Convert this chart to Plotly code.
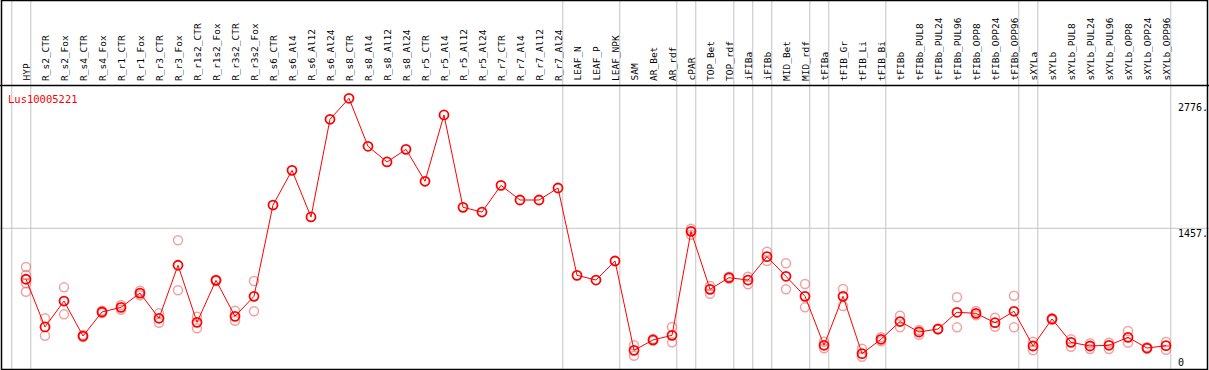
import plotly.graph_objects as go

categories = ["HYP", "R_s2_CTR", "R_s2_Fox", "R_s4_CTR", "R_s4_Fox", "R_r1_CTR", "R_r1_Fox",
              "R_r3_CTR", "R_r3_Fox", "R_r1s2_CTR", "R_r1s2_Fox", "R_r3s2_CTR", "R_r3s2_Fox",
              "R_s6_CTR", "R_s6_Al4", "R_s6_Al12", "R_s6_Al24", "R_s8_CTR", "R_s8_Al4", "R_s8_Al12",
              "R_s8_Al24", "R_r5_CTR", "R_r5_Al4", "R_r5_Al12", "R_r5_Al24", "R_r7_CTR", "R_r7_Al4",
              "R_r7_Al12", "R_r7_Al24", "LEAF_N", "LEAF_P", "LEAF_NPK", "SAM", "AR_Bet", "AR_rdf",
              "cPAR", "TOP_Bet", "TOP_rdf", "iFIBa", "iFIBb", "MID_Bet", "MID_rdf", "tFIBa", "tFIB_Gr",
              "tFIB_Li", "tFIB_Bi", "tFIBb", "tFIBb_PUL8", "tFIBb_PUL24", "tFIBb_PUL96", "tFIBb_OPP8",
              "tFIBb_OPP24", "tFIBb_OPP96", "sXYLa", "sXYLb", "sXYLb_PUL8", "sXYLb_PUL24",
              "sXYLb_PUL96", "sXYLb_OPP8", "sXYLb_OPP24", "sXYLb_OPP96"]

mean_values = [940, 456, 719, 364, 608, 655, 800, 544, 1082, 503, 929, 564, 767,
               1693, 2045, 1572, 2563, 2776, 2289, 2130, 2258, 1934, 2607, 1670, 1622, 1893, 1744,
               1744, 1866, 980, 932, 1125, 219, 324, 371, 1426, 838, 956, 932, 1169, 970, 767,
               270, 767, 185, 331, 511, 405, 435, 605, 594, 499, 615, 263, 537, 300, 263, 270,
               351, 242, 266]

N = None
rep_a = [1064, 544, 858, 375, 620, 680, 824, 594, 1335, 560, 935, 621, 922,
         N, N, N, N, N, N, N, N, N, N, N, N, N, N, N, N, N, N, N,
         270, 335, 456, 1453, 872, 966, 966, 1220, 1102, 892, 306, 841, 235, 351,
         570, 425, 440, 757, 618, 550, 773, 306, 545, 331, 290, 296, 415, 250, 303]
rep_b = [814, 367, 584, 355, 598, 630, 777, 499, 828, 442, 923, 519, 615,
         N, N, N, N, N, N, N, N, N, N, N, N, N, N, N, N, N, N, N,
         164, 315, 300, 1392, 793, 946, 889, 1125, 838, 655, 239, 669, 154, 310,
         452, 377, 430, 452, 574, 459, 452, 219, 530, 256, 232, 232, 296, 235, 225]
rep_c = [983] + [N] * 60
rep_d = [899] + [N] * 60

group_ends = [-1, 0, 28, 31, 34, 35, 37, 38, 39, 41, 42, 45, 52, 53, 60]
y_ticks = [2776, 1457, 0]
y_tick_labels = ["2776.", "1457.", "0"]
gene = "Lus10005221"

W, H = 1209, 370
HEADER = 85
x0_px, step_px = 26, 19
x_range = [-x0_px / step_px, (W - x0_px) / step_px]
y_per_px = 10.146
y_top_val = 2776 + (98.3 - HEADER) * y_per_px
y_range = [y_top_val - (H - HEADER) * y_per_px, y_top_val]


def py(px):
    return (H - px) / H


idx = list(range(len(categories)))
rep_color = "rgba(235,110,110,0.65)"
fig = go.Figure()
for reps in (rep_a, rep_b, rep_c, rep_d):
    fig.add_trace(go.Scatter(x=idx, y=reps, mode="markers",
                             marker=dict(symbol="circle-open", size=9, color=rep_color,
                                         line=dict(width=1.5, color=rep_color)),
                             hoverinfo="skip", showlegend=False))
fig.add_trace(go.Scatter(x=idx, y=mean_values, mode="lines+markers",
                         line=dict(color="#ff0000", width=1),
                         marker=dict(symbol="circle-open", size=9, color="#ff0000",
                                     line=dict(width=1.8, color="#ff0000")),
                         showlegend=False))

shapes = []
for g in group_ends:
    shapes.append(dict(type="line", xref="x", yref="paper", x0=g + 0.25, x1=g + 0.25,
                       y0=0, y1=1, line=dict(color="#c4c4c4", width=1), layer="below"))
shapes.append(dict(type="line", xref="paper", yref="y", x0=0, x1=1, y0=1457, y1=1457,
                   line=dict(color="#c4c4c4", width=1), layer="below"))
shapes.append(dict(type="line", xref="paper", yref="paper", x0=0, x1=1,
                   y0=py(HEADER + 0.5), y1=py(HEADER + 0.5), line=dict(color="black", width=1.5)))
shapes.append(dict(type="rect", xref="paper", yref="paper", x0=1.5 / W, x1=(W - 1.5) / W,
                   y0=0.6 / H, y1=1 - 0.6 / H, line=dict(color="black", width=1.5)))

annotations = []
for i, c in enumerate(categories):
    annotations.append(dict(x=i, xref="x", y=py(83), yref="paper", text=c, textangle=-90,
                            showarrow=False, xanchor="center", yanchor="bottom",
                            font=dict(family="DejaVu Sans Mono", size=9.5, color="black")))
annotations.append(dict(x=6 / W, xref="paper", y=py(91), yref="paper", text=gene,
                        showarrow=False, xanchor="left", yanchor="top",
                        font=dict(family="DejaVu Sans Mono", size=10.5, color="#ff0000")))
tick_px = [107, 233, 362]
for t, lab, p in zip(y_ticks, y_tick_labels, tick_px):
    annotations.append(dict(x=1176 / W, xref="paper", y=py(p), yref="paper", text=lab,
                            showarrow=False, xanchor="left", yanchor="middle",
                            font=dict(family="DejaVu Sans Mono", size=10, color="black")))

fig.update_layout(width=W, height=H, margin=dict(l=0, r=0, t=0, b=0),
                  paper_bgcolor="white", plot_bgcolor="white", hovermode=False,
                  xaxis=dict(range=x_range, visible=False, fixedrange=True),
                  yaxis=dict(range=y_range, domain=[0, (H - HEADER) / H], visible=False,
                             fixedrange=True),
                  shapes=shapes, annotations=annotations)
fig.write_html("out.html", config={"displayModeBar": False},
               post_script="document.body.style.margin='0';document.body.style.overflow='hidden';")
